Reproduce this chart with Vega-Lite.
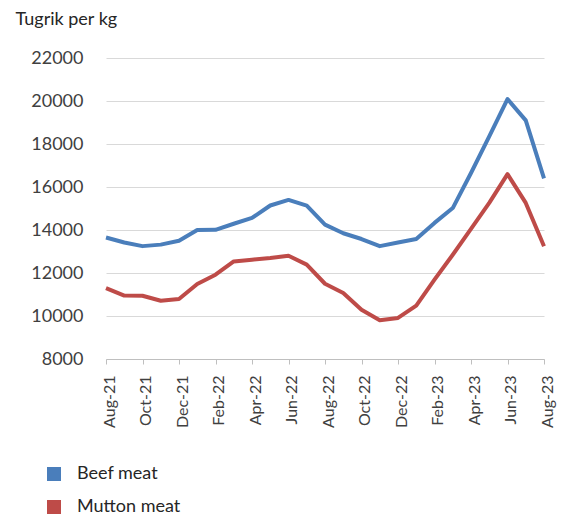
{
  "$schema": "https://vega.github.io/schema/vega-lite/v6.json",
  "width": 438,
  "height": 301,
  "autosize": {"type": "none"},
  "padding": {"left": 106, "top": 58, "right": 20, "bottom": 161},
  "background": "white",
  "config": {
    "view": {"stroke": null},
    "font": "Lato"
  },
  "data": {
    "values": [
      {"month": "Aug-21", "series": "Beef meat", "value": 13650},
      {"month": "Sep-21", "series": "Beef meat", "value": 13420},
      {"month": "Oct-21", "series": "Beef meat", "value": 13250},
      {"month": "Nov-21", "series": "Beef meat", "value": 13320},
      {"month": "Dec-21", "series": "Beef meat", "value": 13500},
      {"month": "Jan-22", "series": "Beef meat", "value": 14000},
      {"month": "Feb-22", "series": "Beef meat", "value": 14010},
      {"month": "Mar-22", "series": "Beef meat", "value": 14290},
      {"month": "Apr-22", "series": "Beef meat", "value": 14560},
      {"month": "May-22", "series": "Beef meat", "value": 15140},
      {"month": "Jun-22", "series": "Beef meat", "value": 15400},
      {"month": "Jul-22", "series": "Beef meat", "value": 15130},
      {"month": "Aug-22", "series": "Beef meat", "value": 14250},
      {"month": "Sep-22", "series": "Beef meat", "value": 13850},
      {"month": "Oct-22", "series": "Beef meat", "value": 13580},
      {"month": "Nov-22", "series": "Beef meat", "value": 13250},
      {"month": "Dec-22", "series": "Beef meat", "value": 13420},
      {"month": "Jan-23", "series": "Beef meat", "value": 13580},
      {"month": "Feb-23", "series": "Beef meat", "value": 14330},
      {"month": "Mar-23", "series": "Beef meat", "value": 15020},
      {"month": "Apr-23", "series": "Beef meat", "value": 16650},
      {"month": "May-23", "series": "Beef meat", "value": 18350},
      {"month": "Jun-23", "series": "Beef meat", "value": 20090},
      {"month": "Jul-23", "series": "Beef meat", "value": 19100},
      {"month": "Aug-23", "series": "Beef meat", "value": 16400},
      {"month": "Aug-21", "series": "Mutton meat", "value": 11300},
      {"month": "Sep-21", "series": "Mutton meat", "value": 10950},
      {"month": "Oct-21", "series": "Mutton meat", "value": 10940},
      {"month": "Nov-21", "series": "Mutton meat", "value": 10710},
      {"month": "Dec-21", "series": "Mutton meat", "value": 10790},
      {"month": "Jan-22", "series": "Mutton meat", "value": 11490},
      {"month": "Feb-22", "series": "Mutton meat", "value": 11920},
      {"month": "Mar-22", "series": "Mutton meat", "value": 12540},
      {"month": "Apr-22", "series": "Mutton meat", "value": 12620},
      {"month": "May-22", "series": "Mutton meat", "value": 12700},
      {"month": "Jun-22", "series": "Mutton meat", "value": 12800},
      {"month": "Jul-22", "series": "Mutton meat", "value": 12390},
      {"month": "Aug-22", "series": "Mutton meat", "value": 11500},
      {"month": "Sep-22", "series": "Mutton meat", "value": 11070},
      {"month": "Oct-22", "series": "Mutton meat", "value": 10290},
      {"month": "Nov-22", "series": "Mutton meat", "value": 9800},
      {"month": "Dec-22", "series": "Mutton meat", "value": 9910},
      {"month": "Jan-23", "series": "Mutton meat", "value": 10480},
      {"month": "Feb-23", "series": "Mutton meat", "value": 11690},
      {"month": "Mar-23", "series": "Mutton meat", "value": 12850},
      {"month": "Apr-23", "series": "Mutton meat", "value": 14050},
      {"month": "May-23", "series": "Mutton meat", "value": 15260},
      {"month": "Jun-23", "series": "Mutton meat", "value": 16600},
      {"month": "Jul-23", "series": "Mutton meat", "value": 15260},
      {"month": "Aug-23", "series": "Mutton meat", "value": 13240}
    ]
  },
  "mark": {"type": "line", "strokeWidth": 4, "strokeJoin": "round", "strokeCap": "butt"},
  "encoding": {
    "x": {
      "field": "month",
      "type": "ordinal",
      "scale": {
        "type": "point",
        "padding": 0,
        "domain": ["Aug-21","Sep-21","Oct-21","Nov-21","Dec-21","Jan-22","Feb-22","Mar-22","Apr-22","May-22","Jun-22","Jul-22","Aug-22","Sep-22","Oct-22","Nov-22","Dec-22","Jan-23","Feb-23","Mar-23","Apr-23","May-23","Jun-23","Jul-23","Aug-23"]
      },
      "axis": {
        "title": null,
        "values": ["Aug-21","Oct-21","Dec-21","Feb-22","Apr-22","Jun-22","Aug-22","Oct-22","Dec-22","Feb-23","Apr-23","Jun-23","Aug-23"],
        "labelAngle": 270,
        "labelAlign": "right",
        "labelBaseline": "middle",
        "labelFont": "Lato",
        "labelFontSize": 16,
        "labelColor": "#404040",
        "labelPadding": 11,
        "labelOffset": 3,
        "domainColor": "#bfbfbf",
        "domainWidth": 1,
        "tickColor": "#bfbfbf",
        "tickSize": 5,
        "grid": false
      }
    },
    "y": {
      "field": "value",
      "type": "quantitative",
      "scale": {"domain": [8000, 22000], "nice": false},
      "axis": {
        "values": [8000, 10000, 12000, 14000, 16000, 18000, 20000, 22000],
        "format": "d",
        "title": "Tugrik per kg",
        "titleAngle": 0,
        "titleAlign": "left",
        "titleBaseline": "alphabetic",
        "titleX": -91,
        "titleY": -34,
        "titleFont": "Lato",
        "titleFontSize": 18,
        "titleFontWeight": "normal",
        "titleColor": "#262626",
        "labelFont": "Lato",
        "labelFontSize": 18,
        "labelColor": "#404040",
        "labelPadding": 23,
        "ticks": false,
        "domain": false,
        "grid": true,
        "gridColor": "#d9d9d9",
        "gridWidth": 1
      }
    },
    "color": {
      "field": "series",
      "type": "nominal",
      "scale": {"domain": ["Beef meat", "Mutton meat"], "range": ["#4a7ebb", "#be4b48"]},
      "legend": {
        "title": null,
        "orient": "none",
        "legendX": -61,
        "legendY": 407,
        "symbolType": "square",
        "symbolSize": 49,
        "symbolStrokeWidth": 7,
        "labelFont": "Lato",
        "labelFontSize": 18,
        "labelColor": "#262626",
        "labelOffset": 14,
        "rowPadding": -3,
        "padding": 0
      }
    }
  }
}
